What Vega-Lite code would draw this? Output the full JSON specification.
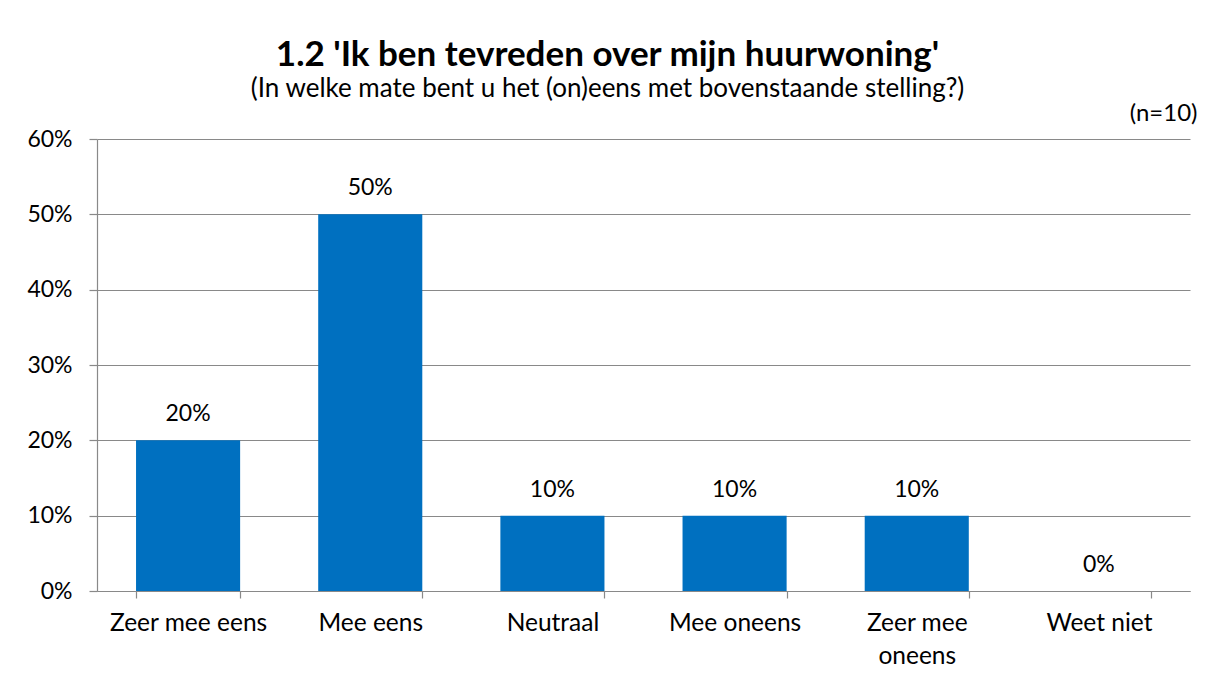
{
  "$schema": "https://vega.github.io/schema/vega-lite/v6.json",
  "width": 1093,
  "height": 452,
  "autosize": "none",
  "padding": {"left": 97, "top": 139, "right": 24, "bottom": 90},
  "background": "white",
  "title": {
    "text": "1.2 'Ik ben tevreden over mijn huurwoning'",
    "subtitle": "(In welke mate bent u het (on)eens met bovenstaande stelling?)",
    "anchor": "middle",
    "frame": "group",
    "dx": -36,
    "offset": -1,
    "font": "Lato",
    "fontSize": 35,
    "fontWeight": "bold",
    "color": "#000000",
    "subtitleFont": "Lato",
    "subtitleFontSize": 26,
    "subtitleColor": "#000000",
    "subtitlePadding": 3
  },
  "data": {
    "values": [
      {"categorie": "Zeer mee eens", "aandeel": 0.2},
      {"categorie": "Mee eens", "aandeel": 0.5},
      {"categorie": "Neutraal", "aandeel": 0.1},
      {"categorie": "Mee oneens", "aandeel": 0.1},
      {"categorie": "Zeer mee oneens", "aandeel": 0.1},
      {"categorie": "Weet niet", "aandeel": 0.0}
    ]
  },
  "layer": [
    {
      "mark": {"type": "bar", "color": "#0070C0"},
      "encoding": {
        "x": {
          "field": "categorie",
          "type": "nominal",
          "sort": null,
          "scale": {"paddingInner": 0.4286, "paddingOuter": 0.2143},
          "axis": {
            "orient": "bottom",
            "title": null,
            "labelAngle": 0,
            "tickBand": "extent",
            "tickSize": 7,
            "labelPadding": 13,
            "labelFontSize": 24.5,
            "labelLineHeight": 33,
            "labelExpr": "datum.value == 'Zeer mee oneens' ? ['Zeer mee', 'oneens'] : datum.value"
          }
        },
        "y": {
          "field": "aandeel",
          "type": "quantitative",
          "scale": {"domain": [0, 0.6], "nice": false},
          "axis": {
            "title": null,
            "format": "%",
            "values": [0, 0.1, 0.2, 0.3, 0.4, 0.5, 0.6],
            "tickSize": 8,
            "labelPadding": 17,
            "labelFontSize": 23,
            "grid": true
          }
        }
      }
    },
    {
      "mark": {"type": "text", "baseline": "alphabetic", "dy": -19, "font": "Lato", "fontSize": 23, "color": "#000000"},
      "encoding": {
        "x": {
          "field": "categorie",
          "type": "nominal",
          "sort": null,
          "axis": {
            "orient": "top",
            "title": "(n=10)",
            "titleAnchor": "end",
            "titleAlign": "right",
            "titleFont": "Lato",
            "titleFontSize": 24,
            "titleFontWeight": "normal",
            "titleColor": "#000000",
            "titlePadding": 14,
            "titleX": 1100,
            "labels": false,
            "ticks": false,
            "domain": false,
            "grid": false
          }
        },
        "y": {"field": "aandeel", "type": "quantitative"},
        "text": {"field": "aandeel", "type": "quantitative", "format": ".0%"}
      }
    }
  ],
  "resolve": {"axis": {"x": "independent"}},
  "config": {
    "font": "Lato",
    "view": {"stroke": null},
    "axis": {
      "labelFont": "Lato",
      "labelFontSize": 22,
      "labelColor": "#000000",
      "domainColor": "#898989",
      "tickColor": "#898989",
      "gridColor": "#898989",
      "domainWidth": 1.2,
      "tickWidth": 1.2,
      "gridWidth": 1.2
    }
  }
}
